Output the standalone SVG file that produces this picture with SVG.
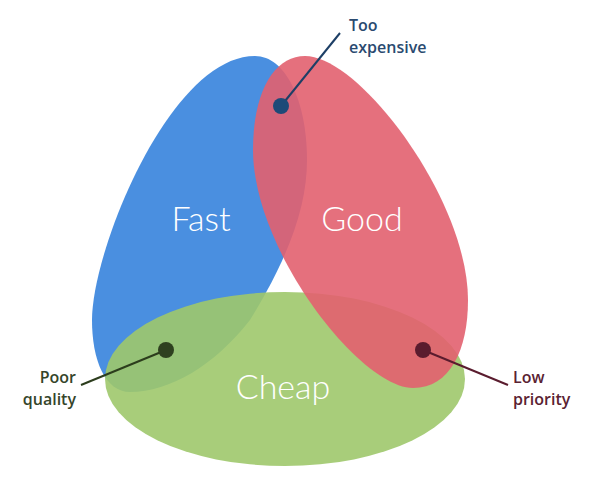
<svg xmlns="http://www.w3.org/2000/svg" width="600" height="500" viewBox="0 0 600 500">
<style>
.big{font-family:Lato,"Open Sans",sans-serif;font-weight:300;font-size:34px;fill:#fff;text-anchor:middle}
.lbl{font-family:"Open Sans",Lato,sans-serif;font-weight:600;font-size:16px}
.ln{stroke-width:2;fill:none}
</style>
<rect width="600" height="500" fill="#fff"/>
<g id="fast"><path d="M255,56 C285,56 307,100 307,160 C307,205 290,255 250,320 C215,365 170,392 130,392 C105,392 92,360 92,320 C92,250 170,56 255,56 Z" fill="#4a8fe0"/></g>
<g id="cheap"><ellipse cx="285" cy="379" rx="180" ry="87" fill="#9ec86b" fill-opacity="0.9"/></g>
<g id="good"><path d="M305,56 C360,56 468,200 468,300 C468,350 450,388 413,388 C360,388 253,250 253,150 C253,90 275,56 305,56 Z" fill="#e2606f" fill-opacity="0.9"/></g>
<g id="labels-big">
<text class="big" x="201" y="231">Fast</text>
<text class="big" x="362" y="231">Good</text>
<text class="big" x="283" y="399">Cheap</text>
</g>
<g id="connectors">
<line class="ln" x1="281" y1="106" x2="340" y2="33" stroke="#1d3f66"/>
<line class="ln" x1="166" y1="350" x2="81" y2="385" stroke="#2c3d1d"/>
<line class="ln" x1="423" y1="350" x2="508" y2="385" stroke="#5a1c2e"/>
</g>
<g id="too-expensive">
<circle cx="281" cy="106" r="8" fill="#1d4a78"/>
<text class="lbl" x="349" y="31" fill="#2a4a70">Too</text>
<text class="lbl" x="349" y="53" fill="#2a4a70">expensive</text>
</g>
<g id="poor-quality">
<circle cx="166" cy="350" r="8" fill="#2e401f"/>
<text class="lbl" x="76" y="383" fill="#35452a" text-anchor="end">Poor</text>
<text class="lbl" x="76" y="405" fill="#35452a" text-anchor="end">quality</text>
</g>
<g id="low-priority">
<circle cx="423" cy="350" r="8" fill="#5a1c2e"/>
<text class="lbl" x="513" y="383" fill="#5a2232">Low</text>
<text class="lbl" x="513" y="405" fill="#5a2232">priority</text>
</g>
</svg>
